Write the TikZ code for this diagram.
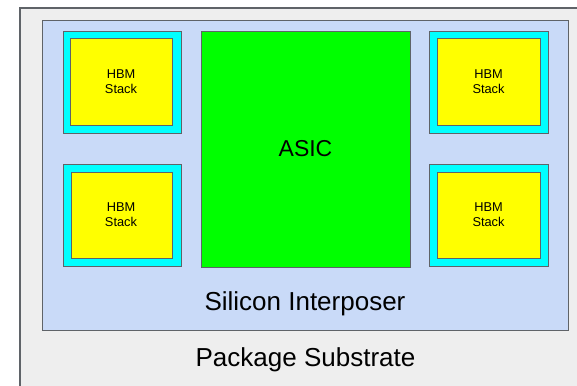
\documentclass[tikz,border=0pt]{standalone}
\usepackage{fontspec}
\setmainfont{Liberation Sans}
\definecolor{substrate}{HTML}{EEEEEE}
\definecolor{interposer}{HTML}{C9DAF8}
\definecolor{edgegray}{HTML}{5F6368}
\definecolor{hbmcyan}{HTML}{00FFFF}
\definecolor{hbmyellow}{HTML}{FFFF00}
\definecolor{asicgreen}{HTML}{00FF00}
\begin{document}
\begin{tikzpicture}[x=1pt,y=-1pt,
  outline/.style={draw=edgegray,line width=0.9pt},
  hbmframe/.style={outline,fill=hbmcyan},
  hbmdie/.style={outline,fill=hbmyellow},
  hbmtext/.style={align=center,font=\fontsize{12.8}{15}\selectfont},
  label/.style={font=\fontsize{26}{30}\selectfont,text=black}
]
\useasboundingbox (0,0) rectangle (577,385);
\fill[white] (0,0) rectangle (577,385);

% package substrate (runs off the right and bottom edges)
\draw[fill=substrate,draw=edgegray,line width=1.3pt]
  (20,400) -- (20,8) -- (590,8);
\fill[substrate] (20.65,8.65) rectangle (590,400);

% silicon interposer
\draw[outline,fill=interposer] (42,20) rectangle (568,330);

% ASIC die
\draw[outline,fill=asicgreen] (201,31) rectangle (410,267);
\node[font=\fontsize{23}{27}\selectfont] (asic) at (305.5,149) {ASIC};

% HBM stacks: cyan frame with yellow die
\draw[hbmframe] (63,31) rectangle (181,133);
\draw[hbmframe] (429,31) rectangle (548,133);
\draw[hbmframe] (63,164) rectangle (181,266);
\draw[hbmframe] (429,164) rectangle (548,266);

\draw[hbmdie] (70,38) rectangle (172,125);
\draw[hbmdie] (437,38) rectangle (540,125);
\draw[hbmdie] (71,172) rectangle (172,258);
\draw[hbmdie] (437,172) rectangle (540,258);

\node[hbmtext] (hbm1) at (121,81.5) {HBM\\Stack};
\node[hbmtext] (hbm2) at (488.5,81.5) {HBM\\Stack};
\node[hbmtext] (hbm3) at (121,215) {HBM\\Stack};
\node[hbmtext] (hbm4) at (488.5,215) {HBM\\Stack};

% layer labels
\node[label,anchor=base] (si) at (305,310) {Silicon Interposer};
\node[label,anchor=base] (pkg) at (305.5,366) {Package Substrate};
\end{tikzpicture}
\end{document}
